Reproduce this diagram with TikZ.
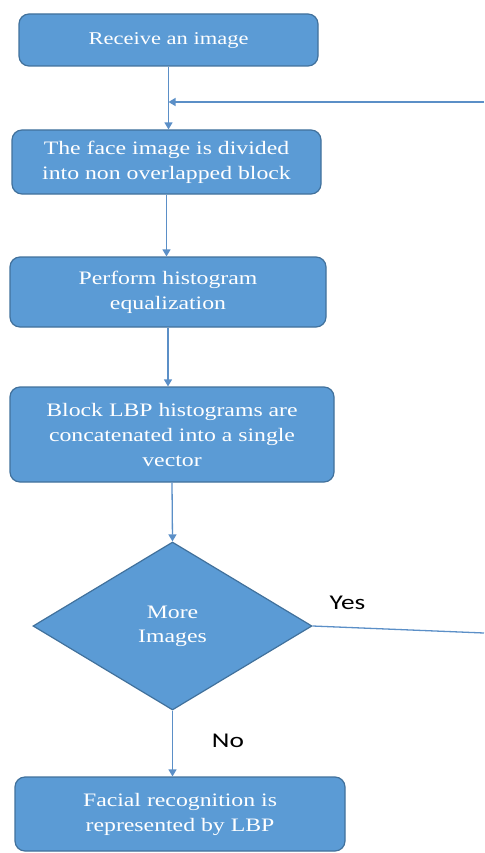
\documentclass[tikz,border=0pt]{standalone}
\usepackage{fontspec}
\setmainfont{Liberation Serif}[FakeStretch=1.25]
\newfontfamily\labelfont{Carlito}[FakeStretch=1.3]
\usetikzlibrary{shapes.geometric,arrows.meta}
\definecolor{boxblue}{HTML}{5B9BD5}
\definecolor{boxedge}{HTML}{41719C}
\definecolor{linkblue}{HTML}{5B8FC7}
\tikzset{
  procbox/.style={draw=boxedge, fill=boxblue, line width=1.2pt, rounded corners=10pt,
    text=white, align=center, inner sep=0pt, font=\fontsize{19}{25}\selectfont},
  decision/.style={diamond, draw=boxedge, fill=boxblue, line width=1.2pt,
    text=white, align=center, inner sep=0pt, font=\fontsize{19}{24}\selectfont},
  link/.style={draw=linkblue, line width=1.3pt},
  flow/.style={link, -{Triangle[width=8pt,length=7pt]}},
  answer/.style={anchor=base, font=\labelfont\fontsize{21}{24}\selectfont}
}
\begin{document}
\begin{tikzpicture}[x=1pt,y=-1pt]
	\useasboundingbox (0,0) rectangle (484,853);
	% steps
	\node[procbox, minimum width=299pt, minimum height=52pt, font=\fontsize{18}{22}\selectfont] (receive) at (168.5,40) {Receive an image};
	\node[procbox, minimum width=309pt, minimum height=64pt] (divide) at (166.5,162) {The face image is divided\\into non overlapped block};
	\node[procbox, minimum width=316pt, minimum height=70pt] (equal) at (168,292) {Perform histogram\\equalization};
	\node[procbox, minimum width=324pt, minimum height=95pt] (concat) at (172,434.5) {Block LBP histograms are\\concatenated into a single\\vector};
	\node[decision, minimum width=279pt, minimum height=168pt] (more) at (172.5,626) {More\\Images};
	\node[procbox, minimum width=330pt, minimum height=74pt] (result) at (180,814) {Facial recognition is\\represented by LBP};
	% loop ends
	\coordinate (loopin) at (484,102);
	\coordinate (yesout) at (484,633);
	% connectors
	\draw[flow] (receive.south) -- (receive.south |- divide.north);
	\draw[flow] (divide.south) -- (divide.south |- equal.north);
	\draw[flow] (equal.south) -- (equal.south |- concat.north);
	\draw[flow] (concat.south) -- (more.north);
	\draw[flow] (more.south) -- (more.south |- result.north);
	\draw[link] (more.east) -- (yesout);
	\draw[flow] (loopin) -- (loopin -| receive.south);
	% answers
	\node[answer] (yes) at (347.5,609) {Yes};
	\node[answer] (no) at (228,747) {No};
\end{tikzpicture}
\end{document}
